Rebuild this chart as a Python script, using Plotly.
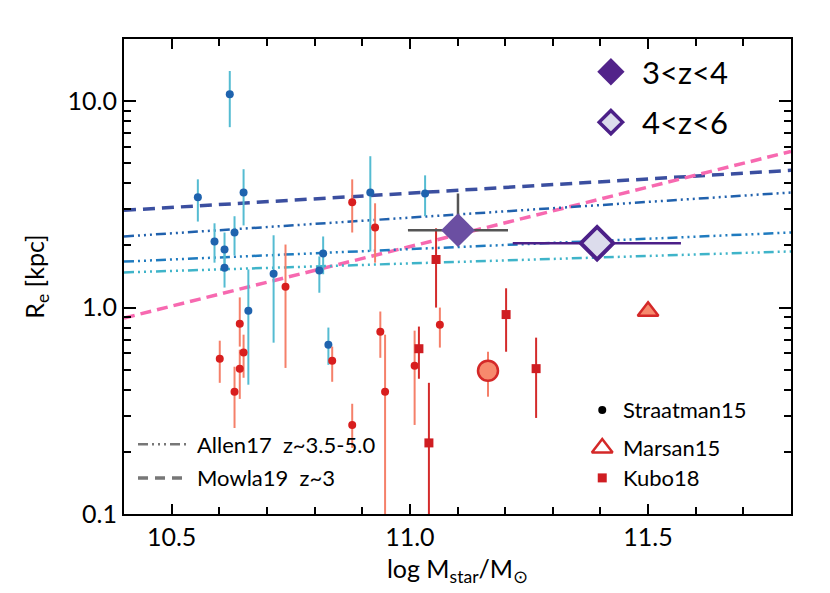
import plotly.graph_objects as go

# Straatman15, star-forming (blue)
sf_x = [10.622, 10.555, 10.651, 10.590, 10.632, 10.611, 10.611, 10.714,
        10.810, 10.818, 10.917, 11.032, 10.661, 10.829]
sf_y = [10.8, 3.42, 3.61, 2.09, 2.31, 1.91, 1.56, 1.46,
        1.51, 1.83, 3.61, 3.57, 0.966, 0.661]
sf_hi = [14.0, 4.18, 4.68, 2.56, 2.77, 2.31, 1.91, 2.24,
         1.77, 2.21, 5.41, 4.37, 1.53, 0.80]
sf_lo = [7.48, 2.61, 2.50, 1.65, 1.79, 1.62, 1.25, 0.676,
         1.18, 1.45, 1.87, 2.77, 0.423, 0.528]

# Straatman15, quiescent (red)
q_x = [10.879, 10.927, 10.739, 10.643, 10.601, 10.651, 10.643, 10.632,
       10.837, 10.938, 10.948, 10.879, 11.010, 11.063]
q_y = [3.24, 2.44, 1.26, 0.836, 0.565, 0.605, 0.506, 0.391,
       0.553, 0.764, 0.391, 0.270, 0.523, 0.826]
q_hi = [4.18, 3.20, 2.02, 1.12, 0.691, 0.739, 0.625, 0.517,
        0.647, 0.957, 0.739, 0.342, 0.773, 1.00]
q_lo = [2.31, 1.65, 0.51, 0.647, 0.432, 0.457, 0.361, 0.261,
        0.437, 0.571, 0.05, 0.209, 0.270, 0.640]

# Kubo18
kubo_x = [11.055, 11.019, 11.040, 11.202, 11.265]
kubo_y = [1.71, 0.632, 0.221, 0.925, 0.506]
kubo_hi = [2.42, 0.809, 0.432, 1.24, 0.715]
kubo_lo = [1.00, 0.452, 0.05, 0.611, 0.292]

# Marsan15
marsan_x = [11.164]
marsan_y = [0.494]
marsan_hi = [0.611]
marsan_lo = [0.370]
marsan_tri_x = [11.50]
marsan_tri_y = [0.96]

# this work
z34_x = [11.101]
z34_y = [2.37]
z34_xlo, z34_xhi = [10.996], [11.206]
z34_ylo, z34_yhi = [2.20], [3.57]
z46_x = [11.393]
z46_y = [2.05]
z46_xlo, z46_xhi = [11.216], [11.569]

# relations (end points over the plotted mass range)
rel_x = [10.4, 11.8]
mowla_sf_y = [2.96, 4.62]
mowla_q_y = [0.89, 5.71]
allen_1_y = [2.21, 3.61]
allen_2_y = [1.67, 2.31]
allen_3_y = [1.48, 1.87]

x_ticks = [10.5, 11.0, 11.5]
y_ticks = [0.1, 1, 10]
y_ticktext = ['0.1', '1.0', '10.0']
y_minor = [0.2, 0.3, 0.4, 0.5, 0.6, 0.7, 0.8, 0.9, 2, 3, 4, 5, 6, 7, 8, 9]

FONT = 'Lato'
ALLEN_DASH = '10px,4px,2px,4px,2px,4px,2px,4px'


def err(y, hi, lo):
    return [h - v for v, h in zip(y, hi)], [v - l for v, l in zip(y, lo)]


def points(x, y, hi, lo, symbol, size, color, ecolor, line=None):
    plus, minus = err(y, hi, lo)
    return go.Scatter(
        x=x, y=y, mode='markers',
        marker=dict(symbol=symbol, size=size, color=color,
                    line=line or dict(width=0)),
        error_y=dict(type='data', symmetric=False, array=plus,
                     arrayminus=minus, color=ecolor, thickness=2, width=0),
        showlegend=False, hoverinfo='skip'
    )


fig = go.Figure()

# relations
for ys, color, dash, w in [
    (mowla_sf_y, '#3b4fa0', '12px,7px', 3.5),
    (mowla_q_y, '#f769b0', '11px,6px', 3.5),
    (allen_1_y, '#2061ad', ALLEN_DASH, 2.5),
    (allen_2_y, '#1f7bbf', ALLEN_DASH, 2.5),
    (allen_3_y, '#3fb4c9', ALLEN_DASH, 2.5),
]:
    fig.add_trace(go.Scatter(x=rel_x, y=ys, mode='lines',
                             line=dict(color=color, dash=dash, width=w),
                             showlegend=False, hoverinfo='skip'))

fig.add_trace(points(sf_x, sf_y, sf_hi, sf_lo, 'circle', 8, '#1f63ae', '#55bcd2'))
fig.add_trace(points(q_x, q_y, q_hi, q_lo, 'circle', 8, '#d81e1e', '#f5806a'))
fig.add_trace(points(kubo_x, kubo_y, kubo_hi, kubo_lo, 'square', 9, '#cf1d22', '#d42a2a'))
fig.add_trace(points(marsan_x, marsan_y, marsan_hi, marsan_lo, 'circle', 20,
                     '#f7896d', '#f5806a', line=dict(color='#d42828', width=2.5)))
fig.add_trace(go.Scatter(x=marsan_tri_x, y=marsan_tri_y, mode='markers',
                         marker=dict(symbol='triangle-up', size=18, color='#f7896d',
                                     line=dict(color='#d42828', width=2.5)),
                         showlegend=False, hoverinfo='skip'))

# 3<z<4
fig.add_trace(go.Scatter(
    x=z34_x, y=z34_y, mode='markers',
    marker=dict(symbol='diamond', size=26, color='#6b4fa2', line=dict(width=0)),
    error_x=dict(type='data', symmetric=False,
                 array=[z34_xhi[0] - z34_x[0]], arrayminus=[z34_x[0] - z34_xlo[0]],
                 color='#555555', thickness=2.5, width=0),
    error_y=dict(type='data', symmetric=False,
                 array=[z34_yhi[0] - z34_y[0]], arrayminus=[z34_y[0] - z34_ylo[0]],
                 color='#555555', thickness=2.5, width=0),
    showlegend=False, hoverinfo='skip'))

# 4<z<6
fig.add_trace(go.Scatter(
    x=z46_x, y=z46_y, mode='markers',
    marker=dict(symbol='diamond', size=25, color='#dcdcec',
                line=dict(color='#4c2088', width=4)),
    error_x=dict(type='data', symmetric=False,
                 array=[z46_xhi[0] - z46_x[0]], arrayminus=[z46_x[0] - z46_xlo[0]],
                 color='#4c2088', thickness=2.5, width=0),
    showlegend=False, hoverinfo='skip'))

# legend keys on an overlay axis spanning the plot area (0-1)
key = dict(xaxis='x2', yaxis='y2', showlegend=False, hoverinfo='skip')
fig.add_trace(go.Scatter(x=[0.730], y=[0.931], mode='markers',
                         marker=dict(symbol='diamond', size=21, color='#52238a'), **key))
fig.add_trace(go.Scatter(x=[0.730], y=[0.825], mode='markers',
                         marker=dict(symbol='diamond', size=18, color='#dcdcec',
                                     line=dict(color='#4c2088', width=3.5)), **key))
fig.add_trace(go.Scatter(x=[0.021, 0.094], y=[0.147, 0.147], mode='lines',
                         line=dict(color='#777777', dash=ALLEN_DASH, width=2.5), **key))
fig.add_trace(go.Scatter(x=[0.021, 0.094], y=[0.076, 0.076], mode='lines',
                         line=dict(color='#777777', dash='10px,7px', width=3.5), **key))
fig.add_trace(go.Scatter(x=[0.717], y=[0.219], mode='markers',
                         marker=dict(symbol='circle', size=8, color='black'), **key))
fig.add_trace(go.Scatter(x=[0.717], y=[0.139], mode='markers',
                         marker=dict(symbol='triangle-up', size=18, color='white',
                                     line=dict(color='#d42828', width=2.5)), **key))
fig.add_trace(go.Scatter(x=[0.717], y=[0.076], mode='markers',
                         marker=dict(symbol='square', size=9, color='#cf1d22'), **key))

labels = [
    (0.774, 0.931, '3<z<4', 31),
    (0.774, 0.825, '4<z<6', 31),
    (0.106, 0.147, 'Allen17  z~3.5-5.0', 22),
    (0.106, 0.076, 'Mowla19  z~3', 22),
    (0.745, 0.219, 'Straatman15', 22),
    (0.745, 0.139, 'Marsan15', 22),
    (0.745, 0.076, 'Kubo18', 22),
]
for lx, ly, txt, fs in labels:
    fig.add_annotation(x=lx, y=ly, xref='paper', yref='paper', text=txt,
                       showarrow=False, xanchor='left', yanchor='middle',
                       font=dict(family=FONT, size=fs, color='black'))

axis_common = dict(showline=True, linewidth=2, linecolor='black', mirror='ticks',
                   ticks='inside', tickcolor='black', tickwidth=1.5,
                   showgrid=False, zeroline=False,
                   tickfont=dict(family=FONT, size=25, color='black'))

# page body adds an 8px offset, so the figure is a little smaller than the window
fig.update_layout(
    width=822, height=585,
    margin=dict(l=116, r=39, t=31, b=79),
    paper_bgcolor='white', plot_bgcolor='white',
    font=dict(family=FONT, color='black'),
    xaxis=dict(range=[10.4, 11.8], tickvals=x_ticks, tickformat='.1f', ticklen=10,
               minor=dict(dtick=0.1, tick0=10.4, ticks='inside', ticklen=7,
                          tickcolor='black', tickwidth=1.5),
               title=dict(text='log M<sub>star</sub>/M<sub>⊙</sub>',
                          font=dict(family=FONT, size=25), standoff=10),
               **axis_common),
    yaxis=dict(type='log', range=[-1, 1.301], tickvals=y_ticks, ticktext=y_ticktext,
               ticklen=12,
               minor=dict(tickvals=y_minor, ticks='inside', ticklen=7,
                          tickcolor='black', tickwidth=1.5),
               title=dict(text='R<sub>e</sub> [kpc]',
                          font=dict(family=FONT, size=25), standoff=16),
               **axis_common),
    xaxis2=dict(overlaying='x', range=[0, 1], visible=False),
    yaxis2=dict(overlaying='y', range=[0, 1], visible=False),
)

fig.write_html("out.html")
